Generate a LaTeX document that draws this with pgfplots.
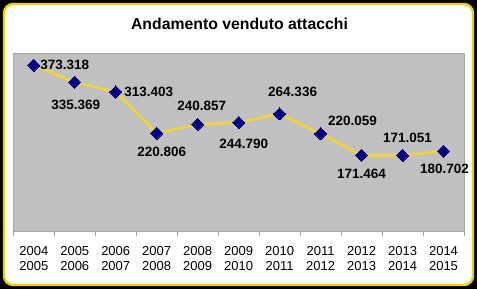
\documentclass[border=0pt]{standalone}
\usepackage{pgfplots}
\pgfplotsset{compat=1.18}
\usepackage{pgfplotstable}
\usepackage{fontspec}
\setmainfont{Liberation Sans}
\definecolor{bgray}{HTML}{C0C0C0}
\definecolor{lyellow}{HTML}{F2D335}
\definecolor{byellow}{HTML}{F0D000}
\definecolor{navy}{HTML}{000080}
\pgfplotstableread{
x y dx dy
0 373.318 31 0
1 335.369 1 -23
2 313.403 33 0
3 220.806 5 -19
4 240.857 4 18
5 244.790 5 -21
6 264.336 13 22
7 220.059 32 13
8 171.464 0 -19
9 171.051 5 18
10 180.702 1 -18
}\datatable
\begin{document}
\begin{tikzpicture}[x=1pt,y=1pt]
\fill[black] (0,0) rectangle (477,289);
\filldraw[fill=white,draw=byellow,line width=2.4pt,rounded corners=9pt] (4,4) rectangle (473,285);
\node[font=\bfseries\fontsize{15.8}{18}\selectfont] at (239.5,265) {Andamento venduto attacchi};
\begin{axis}[
  at={(13.3pt,57.3pt)}, anchor=south west,
  width=450.7pt, height=178.4pt, scale only axis,
  xmin=-0.5, xmax=10.5, ymin=0, ymax=400,
  axis background/.style={fill=bgray},
  axis line style={draw=gray!70},
  separate axis lines,
  axis y line=none,
  axis x line*=bottom,
  x axis line style={-},
  xtick={0,...,10},
  xticklabels={{2004\\2005},{2005\\2006},{2006\\2007},{2007\\2008},{2008\\2009},{2009\\2010},{2010\\2011},{2011\\2012},{2012\\2013},{2013\\2014},{2014\\2015}},
  xticklabel style={align=center,font=\fontsize{13}{15}\selectfont,anchor=north,yshift=-11pt},
  major tick length=0pt,
  minor xtick={-0.5,0.5,...,10.5},
  minor tick length=4pt,
  tick align=outside,
  minor tick style={draw=gray!70},
  clip=false,
]
\draw[gray!70] (axis cs:-0.5,0) rectangle (axis cs:10.5,400);
\addplot[color=lyellow, line width=2.6pt, mark=square*, mark size=4.3pt,
  mark options={fill=navy,draw=navy,line width=0pt,rotate=45},
  point meta=explicit symbolic,
  visualization depends on={\thisrow{dx}\as\dx},
  visualization depends on={\thisrow{dy}\as\dy},
  nodes near coords,
  nodes near coords style={anchor=center,xshift=\dx pt,yshift=\dy pt,font=\bfseries\fontsize{13.5}{15}\selectfont,text=black,inner sep=0pt,rotate=0},
] table[x=x,y=y,meta=y] {\datatable};
\end{axis}
\end{tikzpicture}
\end{document}
